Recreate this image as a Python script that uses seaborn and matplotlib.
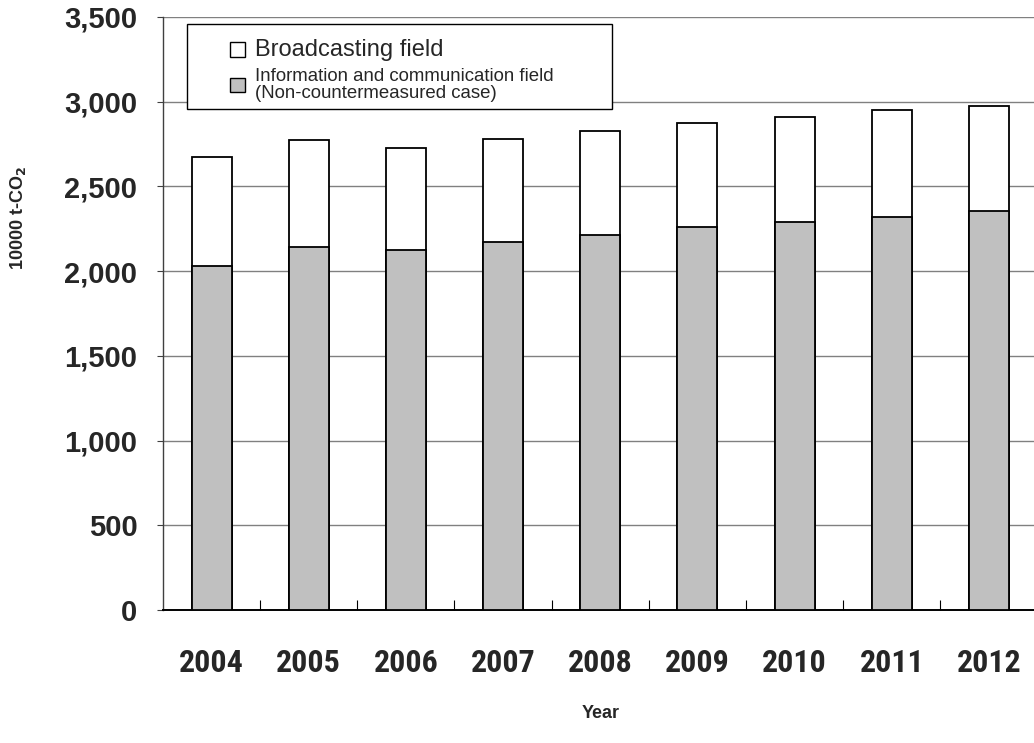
import matplotlib
matplotlib.use("Agg")
import matplotlib.pyplot as plt
import matplotlib.ticker as mticker
from matplotlib.patches import Patch, Rectangle
import numpy as np
import pandas as pd
import seaborn as sns

# CO2 emissions, unit: 10000 t-CO2
years = ["2004", "2005", "2006", "2007", "2008", "2009", "2010", "2011", "2012"]
info_comm = [2030, 2141, 2127, 2171, 2216, 2259, 2290, 2322, 2355]
broadcasting = [646, 631, 602, 611, 610, 618, 622, 631, 622]

series_labels = [
    "Broadcasting field",
    "Information and communication field\n(Non-countermeasured case)",
]
y_ticks = [0, 500, 1000, 1500, 2000, 2500, 3000, 3500]

df = pd.DataFrame({"year": years, "info": info_comm, "broadcast": broadcasting})
df["total"] = df["info"] + df["broadcast"]

sns.set_theme(style="white")
plt.rcParams["font.family"] = ["Liberation Sans", "DejaVu Sans"]

W, H = 1034, 743
fig = plt.figure(figsize=(W / 100, H / 100), dpi=100)
ax = fig.add_axes([163 / W, 1 - 610 / H, (1037.5 - 163) / W, 593 / H])

gray = "#c0c0c0"
bar_w = 0.41
# stacked bars: full height in white, information/communication share in gray on top
sns.barplot(data=df, x="year", y="total", color="white", saturation=1,
            edgecolor="black", linewidth=1.3, width=bar_w, ax=ax, zorder=3)
sns.barplot(data=df, x="year", y="info", color=gray, saturation=1,
            edgecolor="black", linewidth=1.3, width=bar_w, ax=ax, zorder=3)

ax.set_xlim(-0.5, len(years) - 0.5)
ax.set_ylim(0, 3500)
ax.set_yticks(y_ticks)
ax.yaxis.set_major_formatter(mticker.StrMethodFormatter("{x:,.0f}"))

# horizontal gridlines
ax.yaxis.grid(True, color="#808080", linewidth=1.0, zorder=0)
ax.set_axisbelow(True)

for side in ["top", "right"]:
    ax.spines[side].set_visible(False)
ax.spines["left"].set_color("#404040")
ax.spines["left"].set_linewidth(1.0)
ax.spines["bottom"].set_color("black")
ax.spines["bottom"].set_linewidth(1.4)

# tick styling
ax.tick_params(axis="y", which="major", direction="out", length=4.5, width=0.8,
               color="#404040", pad=14, left=True)
for lab in ax.get_yticklabels():
    lab.set_fontfamily(["Liberation Sans", "DejaVu Sans"])
    lab.set_fontweight("bold")
    lab.set_fontsize(21)

ax.tick_params(axis="x", which="major", length=0, pad=27)
ax.xaxis.set_minor_locator(mticker.FixedLocator(np.arange(0.5, len(years) - 0.5, 1.0)))
ax.tick_params(axis="x", which="minor", direction="in", length=7, width=0.8,
               color="black", bottom=True)
for lab in ax.get_xticklabels():
    lab.set_fontfamily(["Roboto Condensed", "Liberation Sans", "DejaVu Sans"])
    lab.set_fontweight("bold")
    lab.set_fontsize(23)

ax.set_xlabel("Year", fontsize=13, fontweight="bold")
ax.xaxis.set_label_coords(0.5, -0.160)
ax.set_ylabel("10000 t-CO$_\\mathbf{2}$", fontsize=13, fontweight="bold")
ax.yaxis.set_label_coords(-0.154, 0.661)

# legend box
box = Rectangle((186.7 / W, 1 - 109 / H), (611.7 - 186.7) / W, (109 - 24.3) / H,
                transform=fig.transFigure, facecolor="white", edgecolor="black",
                linewidth=1.0, zorder=6, clip_on=False)
ax.add_artist(box)

handles = [
    Patch(facecolor="white", edgecolor="black", linewidth=1.0),
    Patch(facecolor=gray, edgecolor="black", linewidth=1.0),
]
leg = ax.legend(handles, series_labels, loc="upper left",
                bbox_to_anchor=(230 / W, 1 - 39 / H), bbox_transform=fig.transFigure,
                frameon=False, fontsize=13.4, handlelength=0.82, handleheight=0.82,
                handletextpad=0.55, labelspacing=0.4, borderpad=0, borderaxespad=0)
leg.set_zorder(7)
texts = leg.get_texts()
texts[0].set_fontsize(17)
texts[1].set_linespacing(0.95)

fig.savefig("out.png", dpi=100)
